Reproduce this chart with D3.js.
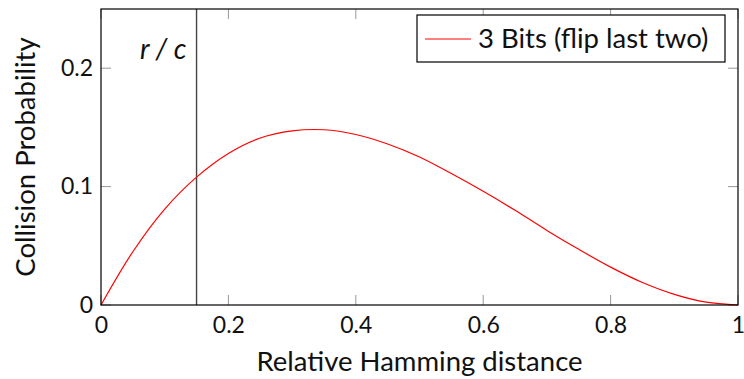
<!DOCTYPE html>
<html>
<head>
<meta charset="utf-8">
<script src="https://cdn.jsdelivr.net/npm/d3@7"></script>
<style>
  body { margin: 0; background: #fff; }
  svg text { font-family: Lato, "Open Sans", sans-serif; fill: #111; }
</style>
</head>
<body>
<div id="chart"></div>
<script>
// data
const distance = [0, 0.05, 0.1, 0.15, 0.2, 0.25, 0.3, 0.35, 0.4, 0.45, 0.5,
  0.55, 0.6, 0.65, 0.7, 0.75, 0.8, 0.85, 0.9, 0.95, 1];
const probability = [0, 0.045, 0.081, 0.108, 0.128, 0.141, 0.147, 0.148, 0.144,
  0.136, 0.125, 0.111, 0.096, 0.080, 0.063, 0.047, 0.032, 0.019, 0.009, 0.0024, 0];
const xTicks = [0, 0.2, 0.4, 0.6, 0.8, 1];
const yTicks = [0, 0.1, 0.2];
const rcValue = 0.15;
const seriesName = '3 Bits (flip last two)';

const width = 744;
const height = 379;
const margin = { top: 9, right: 6, bottom: 74, left: 101 };

const svg = d3.select('#chart')
  .append('svg')
  .attr('width', width)
  .attr('height', height);

const x = d3.scaleLinear().domain([0, 1]).range([margin.left, width - margin.right]);
const y = d3.scaleLinear().domain([0, 0.25]).range([height - margin.bottom, margin.top]);

const fmt = (d) => (d === 0 || d === 1 ? String(d) : d3.format('.1f')(d));

// inner ticks on all four sides
const tickLen = 10;
const tickG = svg.append('g').attr('stroke', '#999').attr('stroke-width', 1);
xTicks.forEach((t) => {
  tickG.append('line').attr('x1', x(t)).attr('x2', x(t))
    .attr('y1', y(0)).attr('y2', y(0) - tickLen);
  tickG.append('line').attr('x1', x(t)).attr('x2', x(t))
    .attr('y1', y(0.25)).attr('y2', y(0.25) + tickLen);
});
yTicks.forEach((t) => {
  tickG.append('line').attr('x1', x(0)).attr('x2', x(0) + tickLen)
    .attr('y1', y(t)).attr('y2', y(t));
  tickG.append('line').attr('x1', x(1)).attr('x2', x(1) - tickLen)
    .attr('y1', y(t)).attr('y2', y(t));
});

// tick labels via axes
const axisX = svg.append('g')
  .attr('transform', `translate(0,${y(0)})`)
  .call(d3.axisBottom(x).tickValues(xTicks).tickFormat(fmt).tickSize(0).tickPadding(12));
axisX.select('.domain').remove();
axisX.selectAll('text').style('font-size', '23px').style('font-family', 'Lato, sans-serif');

const axisY = svg.append('g')
  .attr('transform', `translate(${x(0)},0)`)
  .call(d3.axisLeft(y).tickValues(yTicks).tickFormat(fmt).tickSize(0).tickPadding(8));
axisY.select('.domain').remove();
axisY.selectAll('text').style('font-size', '23px').style('font-family', 'Lato, sans-serif');

// r/c line
svg.append('line')
  .attr('x1', x(rcValue)).attr('x2', x(rcValue))
  .attr('y1', y(0)).attr('y2', y(0.25))
  .attr('stroke', '#444').attr('stroke-width', 1.4);
svg.append('text')
  .attr('x', x(rcValue) - 10).attr('y', 59)
  .attr('text-anchor', 'end')
  .style('font-size', '28px').style('font-style', 'italic')
  .text('r / c');

// curve
const pts = distance.map((d, i) => [d, probability[i]]);
svg.append('path')
  .datum(pts)
  .attr('fill', 'none')
  .attr('stroke', '#ff0000')
  .attr('stroke-width', 1.2)
  .attr('d', d3.line().x((d) => x(d[0])).y((d) => y(d[1])).curve(d3.curveCatmullRom));

// frame
svg.append('rect')
  .attr('x', x(0)).attr('y', y(0.25))
  .attr('width', x(1) - x(0)).attr('height', y(0) - y(0.25))
  .attr('fill', 'none').attr('stroke', '#000').attr('stroke-width', 1.2);

// legend
const lg = svg.append('g').attr('transform', 'translate(417,15)');
lg.append('rect').attr('width', 308).attr('height', 47)
  .attr('fill', '#fff').attr('stroke', '#000').attr('stroke-width', 1.2);
lg.append('line').attr('x1', 8).attr('x2', 54).attr('y1', 24).attr('y2', 24)
  .attr('stroke', '#ff0000').attr('stroke-width', 1.2);
lg.append('text').attr('x', 61).attr('y', 33)
  .style('font-size', '27.5px').text(seriesName);

// axis titles
svg.append('text')
  .attr('x', (x(0) + x(1)) / 2).attr('y', 371)
  .attr('text-anchor', 'middle')
  .style('font-size', '27.5px')
  .text('Relative Hamming distance');
svg.append('text')
  .attr('transform', `translate(35,${(y(0) + y(0.25)) / 2}) rotate(-90)`)
  .attr('text-anchor', 'middle')
  .style('font-size', '27.5px')
  .text('Collision Probability');
</script>
</body>
</html>
